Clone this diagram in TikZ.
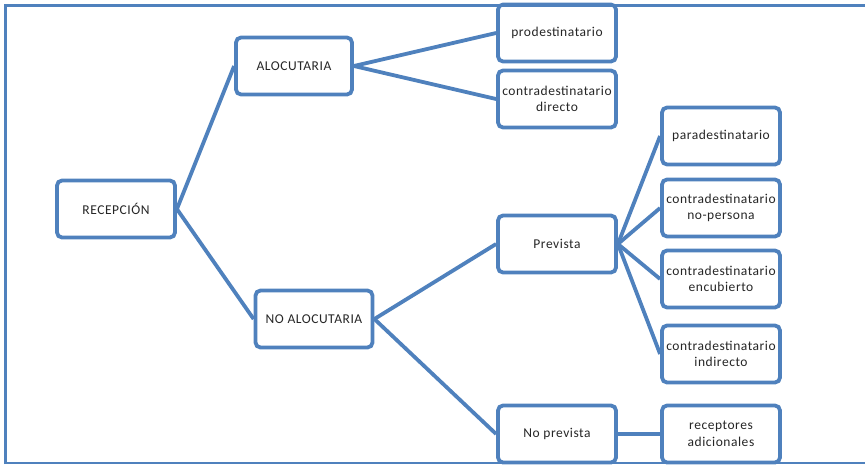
\documentclass[tikz,border=0pt]{standalone}
\usepackage{fontspec}
\setmainfont{Carlito}[LetterSpace=4]
\usepackage{tikz}

\definecolor{linkblue}{RGB}{79,129,189}

\begin{document}
\begin{tikzpicture}[x=1pt, y=-1pt,
  box/.style={rectangle, rounded corners=5pt, draw=linkblue, line width=3.8pt, fill=white,
    minimum width=118pt, minimum height=57pt, align=center, inner sep=2pt,
    font=\fontsize{13.5}{16.5}\selectfont, text=black!85},
  link/.style={draw=linkblue, line width=3.8pt}]
\useasboundingbox (0,0) rectangle (865,464);

\node[box] (recepcion) at (116,209) {RECEPCIÓN};
\node[box, minimum width=116pt] (alocutaria) at (294,66) {ALOCUTARIA};
\node[box, minimum width=117pt] (noalocutaria) at (314,319) {NO ALOCUTARIA};

\node[box] (prodest) at (557,33) {prodestinatario};
\node[box] (contradir) at (557,99) {contradestinatario\\directo};
\node[box] (prevista) at (557,244) {Prevista};
\node[box] (noprevista) at (557,434) {No prevista};

\node[box] (paradest) at (721,136) {paradestinatario};
\node[box] (nopersona) at (721,208) {contradestinatario\\no-persona};
\node[box] (encubierto) at (721,279) {contradestinatario\\encubierto};
\node[box] (indirecto) at (721,354) {contradestinatario\\indirecto};
\node[box] (receptores) at (721,434) {receptores\\adicionales};

\draw[link] (recepcion.east) -- (alocutaria.west);
\draw[link] (recepcion.east) -- (noalocutaria.west);
\draw[link] (alocutaria.east) -- (prodest.west);
\draw[link] (alocutaria.east) -- (contradir.west);
\draw[link] (noalocutaria.east) -- (prevista.west);
\draw[link] (noalocutaria.east) -- (noprevista.west);
\draw[link] (prevista.east) -- (paradest.west);
\draw[link] (prevista.east) -- (nopersona.west);
\draw[link] (prevista.east) -- (encubierto.west);
\draw[link] (prevista.east) -- (indirecto.west);
\draw[link] (noprevista.east) -- (receptores.west);

\fill[white] (0,463) rectangle (865,464);
\draw[linkblue, line width=3pt] (5,464) -- (5,5) -- (865,5);
\draw[linkblue, line width=1.5pt] (5,463) -- (865,463);
\end{tikzpicture}
\end{document}
